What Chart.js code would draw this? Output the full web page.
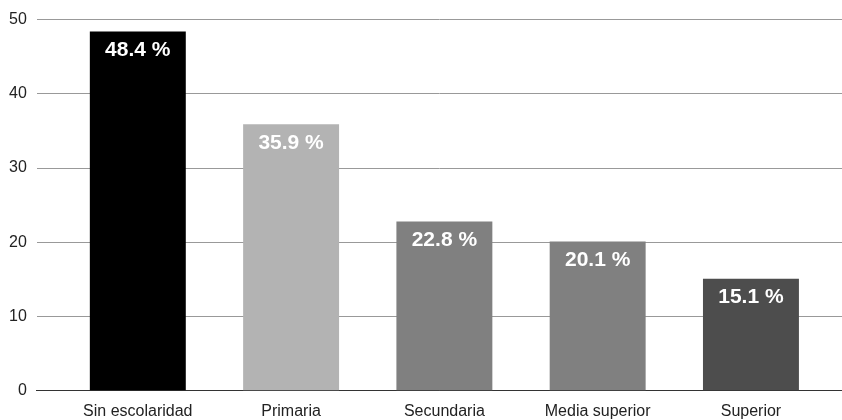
<!DOCTYPE html>
<html>
<head>
<meta charset="utf-8">
<script src="https://cdn.jsdelivr.net/npm/chart.js@4/dist/chart.umd.min.js"></script>
<style>
  html, body { margin: 0; padding: 0; background: #fff; }
  canvas { display: block; }
</style>
</head>
<body>
<canvas id="chart" width="842" height="420"></canvas>
<script>
// Education level categories and their percentages
const categories = ["Sin escolaridad", "Primaria", "Secundaria", "Media superior", "Superior"];
const values = [48.4, 35.9, 22.8, 20.1, 15.1];
const barColors = ["#000000", "#b3b3b3", "#808080", "#808080", "#4d4d4d"];
const yTicks = [0, 10, 20, 30, 40, 50];

const FONT = '"Liberation Sans", Arial, Helvetica, sans-serif';

// Writes the percentage in white near the top of each bar
const valueLabels = {
  id: 'valueLabels',
  afterDatasetsDraw(chart) {
    const ctx = chart.ctx;
    const meta = chart.getDatasetMeta(0);
    ctx.save();
    ctx.fillStyle = '#ffffff';
    ctx.font = 'bold 21px ' + FONT;
    ctx.textAlign = 'center';
    ctx.textBaseline = 'middle';
    meta.data.forEach((bar, i) => {
      ctx.fillText(values[i].toFixed(1) + ' %', bar.x, bar.y + 19);
    });
    ctx.restore();
  }
};

new Chart(document.getElementById('chart'), {
  type: 'bar',
  data: {
    datasets: [{
      data: values.map((v, i) => ({ x: i, y: v })),
      backgroundColor: barColors,
      borderWidth: 0,
      categoryPercentage: 1,
      barPercentage: 0.626
    }]
  },
  options: {
    responsive: false,
    animation: false,
    layout: { padding: { top: 13, left: -1, right: 0, bottom: -12 } },
    plugins: { legend: { display: false }, tooltip: { enabled: false } },
    scales: {
      x: {
        type: 'linear',
        offset: false,
        min: -0.659,
        max: 4.594,
        afterBuildTicks: scale => { scale.ticks = categories.map((_, i) => ({ value: i })); },
        ticks: {
          autoSkip: false,
          maxRotation: 0,
          padding: 11,
          color: '#222',
          font: { family: FONT, size: 16 },
          callback: v => categories[v]
        },
        grid: { display: false, drawTicks: false },
        border: { display: true, color: '#333', width: 1 }
      },
      y: {
        min: 0,
        max: 50,
        afterBuildTicks: scale => { scale.ticks = yTicks.map(v => ({ value: v })); },
        ticks: {
          padding: 10,
          color: '#222',
          font: { family: FONT, size: 16 }
        },
        grid: {
          drawTicks: false,
          color: c => (c.tick && c.tick.value === 0) ? '#333' : '#999',
          lineWidth: 1
        },
        border: { display: false }
      }
    }
  },
  plugins: [valueLabels]
});
</script>
</body>
</html>
